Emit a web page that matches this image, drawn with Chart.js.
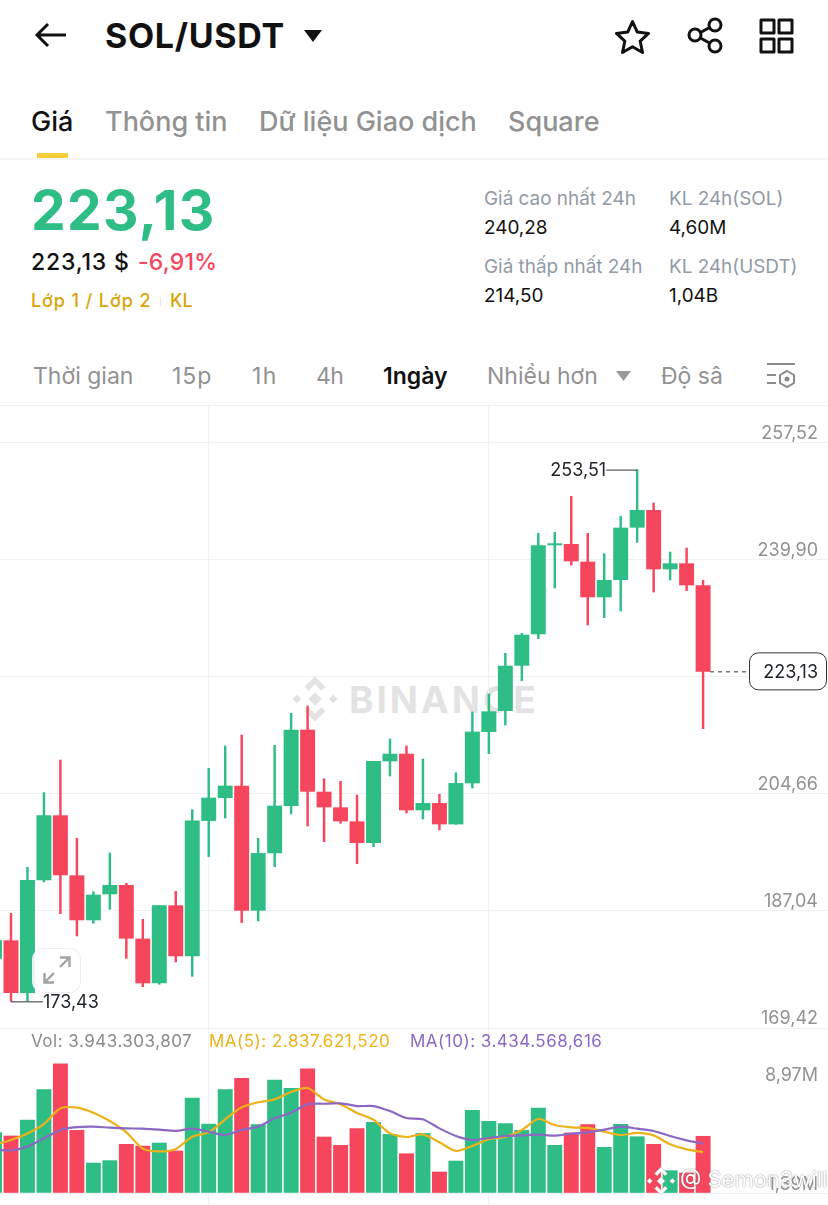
<!DOCTYPE html>
<html>
<head>
<meta charset="utf-8">
<title>SOL/USDT</title>
<script src="https://cdn.jsdelivr.net/npm/chart.js@4"></script>
<style>
  html, body { margin: 0; padding: 0; background: #fff; }
  body { width: 828px; height: 1205px; position: relative; overflow: hidden; font-family: Inter, sans-serif; }
  .t { position: absolute; white-space: nowrap; line-height: 1; transform: translateY(-50%); }
  .grey { color: #929AA5; }
  .tab { font-size: 27px; font-weight: 500; top: 120.5px; color: #929292; }
  .range { font-size: 23px; top: 376px; color: #929292; }
  .stat { font-size: 18.9px; }
  .legend { font-size: 17px; top: 1041px; letter-spacing: .5px; }
  canvas { position: absolute; left: 0; display: block; }
  svg { position: absolute; }
  .rule { position: absolute; left: 0; width: 828px; height: 2px; background: #F5F5F5; }
</style>
</head>
<body>

<!-- top bar -->
<svg style="left:34px;top:21px" width="34" height="28" viewBox="0 0 34 28" fill="none" stroke="#111" stroke-width="3"><path d="M32 14H3M14 3L3 14l11 11"/></svg>
<div class="t" style="left:105px;top:36px;font-size:34px;font-weight:700;color:#111;letter-spacing:.7px">SOL/USDT</div>
<svg style="left:304px;top:30px" width="18" height="12"><path d="M0 0h18L9 12z" fill="#111"/></svg>
<svg style="left:614px;top:19px" width="37" height="35" viewBox="0 0 37 35" fill="none" stroke="#111" stroke-width="3" stroke-linejoin="round"><path d="M18.5 2.5l4.8 10.6 11.2 1.3-8.3 7.8 2.3 11.3-10-5.7-10 5.7 2.3-11.3-8.3-7.8 11.2-1.3z"/></svg>
<svg style="left:686px;top:17px" width="38" height="37" viewBox="0 0 38 37" fill="none" stroke="#111" stroke-width="3"><circle cx="29" cy="8" r="6"/><circle cx="29" cy="29" r="6"/><circle cx="9" cy="18" r="6"/><path d="M14.5 15.5l9-5M14.5 21l9 5"/></svg>
<svg style="left:758px;top:18px" width="37" height="36" viewBox="0 0 37 36" fill="none" stroke="#111" stroke-width="3" stroke-linejoin="round"><rect x="3" y="2" width="13" height="13"/><rect x="21" y="2" width="13" height="13"/><rect x="3" y="21" width="13" height="13"/><rect x="21" y="21" width="13" height="13"/></svg>

<!-- tabs -->
<div class="t tab" style="left:31px;color:#111">Giá</div>
<div class="t tab" style="left:105px">Thông tin</div>
<div class="t tab" style="left:259px">Dữ liệu Giao dịch</div>
<div class="t tab" style="left:508px">Square</div>
<div style="position:absolute;left:37px;top:153px;width:31px;height:5px;background:#F8CF3A"></div>
<div class="rule" style="top:158px"></div>

<!-- price block -->
<div class="t" style="left:31px;top:210px;font-size:55px;font-weight:700;color:#2EBD85;letter-spacing:1.4px">223,13</div>
<div class="t" style="left:31px;top:262px;font-size:23px;font-weight:500;color:#111;letter-spacing:.8px">223,13 $</div>
<div class="t" style="left:138px;top:262px;font-size:23px;font-weight:500;color:#F6465D;letter-spacing:.2px">-6,91%</div>
<div class="t" style="left:31px;top:301px;font-size:18px;font-weight:500;color:#D9A406;letter-spacing:.9px">Lớp 1 / Lớp 2</div>
<div style="position:absolute;left:160px;top:297px;width:1px;height:9px;background:#E6E6E6"></div>
<div class="t" style="left:170px;top:301px;font-size:18px;font-weight:500;color:#D9A406">KL</div>

<div class="t stat grey" style="left:484px;top:199px">Giá cao nhất 24h</div>
<div class="t stat" style="left:484px;top:228px;color:#111">240,28</div>
<div class="t stat grey" style="left:484px;top:267px">Giá thấp nhất 24h</div>
<div class="t stat" style="left:484px;top:296px;color:#111">214,50</div>
<div class="t stat grey" style="left:669px;top:199px">KL 24h(SOL)</div>
<div class="t stat" style="left:669px;top:228px;color:#111">4,60M</div>
<div class="t stat grey" style="left:669px;top:267px">KL 24h(USDT)</div>
<div class="t stat" style="left:669px;top:296px;color:#111">1,04B</div>

<!-- interval row -->
<div class="t range" style="left:33px">Thời gian</div>
<div class="t range" style="left:172px;letter-spacing:1px">15p</div>
<div class="t range" style="left:252px;letter-spacing:1.5px">1h</div>
<div class="t range" style="left:316px;letter-spacing:-.5px">4h</div>
<div class="t range" style="left:383px;color:#111;font-weight:600">1ngày</div>
<div class="t range" style="left:487px">Nhiều hơn</div>
<svg style="left:616px;top:371px" width="15" height="10"><path d="M0 0h15L7.5 10z" fill="#9A9A9A"/></svg>
<div class="t range" style="left:661px">Độ sâ</div>
<svg style="left:765px;top:362px" width="31" height="28" viewBox="0 0 31 28" fill="none" stroke="#8A8A8A" stroke-width="2"><path d="M2 2h28M2 13h9M2 21h9"/><path d="M22 9l7 4v8l-7 4-7-4v-8z"/><circle cx="22" cy="17" r="1.5" fill="#8A8A8A"/></svg>
<div class="rule" style="top:405px;height:1px;background:#EEEEEE"></div>

<!-- watermark sits under the candles -->
<svg style="left:291px;top:675px" width="48" height="48" viewBox="0 0 32 32" fill="#E3E3E3"><path d="M16 1l6.9 6.9-2.6 2.6L16 6.2l-4.3 4.3-2.6-2.6zM16 31l-6.9-6.9 2.6-2.6 4.3 4.3 4.3-4.3 2.6 2.6zM1 16l2.9-2.9L6.8 16l-2.9 2.9zM25.2 16l2.9-2.9L31 16l-2.9 2.9zM16 11.6l4.4 4.4-4.4 4.4-4.4-4.4z"/></svg>
<div class="t" style="left:349px;top:699px;font-size:37px;font-weight:700;color:#E3E3E3;letter-spacing:3px">BINANCE</div>

<canvas id="priceChart" width="828" height="622" style="top:406px"></canvas>
<canvas id="volumeChart" width="828" height="177" style="top:1028px"></canvas>

<!-- expand button -->
<div style="position:absolute;left:32px;top:948px;width:47px;height:43px;border:1.5px solid #EDEDED;border-radius:11px;background:rgba(255,255,255,.88)"></div>
<svg style="left:42px;top:955px" width="30" height="30" viewBox="0 0 30 30" fill="none" stroke="#A3A3A3" stroke-width="2.4"><path d="M18 12l9-9M18 2.500h9.500V12M12 18l-9 9M2.500 18v9.500H12"/></svg>

<!-- volume legend -->
<div class="t legend" style="left:31px;color:#8A8A8A">Vol: 3.943.303,807</div>
<div class="t legend" style="left:209px;color:#EDB21A">MA(5): 2.837.621,520</div>
<div class="t legend" style="left:410px;color:#8B68C4">MA(10): 3.434.568,616</div>

<!-- footer watermark -->
<svg style="left:646px;top:1166px" width="30" height="30" viewBox="0 0 32 32" fill="#fff" stroke="#BDBDBD" stroke-width=".6"><path d="M16 1l6.9 6.9-2.6 2.6L16 6.200l-4.300 4.300-2.600-2.600zM16 31l-6.900-6.900 2.600-2.600 4.300 4.300 4.300-4.300 2.600 2.600zM1 16l2.900-2.900L6.800 16l-2.900 2.900zM25.200 16l2.900-2.900L31 16l-2.900 2.900zM16 11.600l4.400 4.400-4.400 4.400-4.400-4.400z"/></svg>
<div class="t" style="left:680px;top:1179px;font-size:22px;color:#fff;text-shadow:0 0 1.5px #666">@ Semon3will</div>

<script>
// candle index on the x axis, one per day
const dayIndex = [0,1,2,3,4,5,6,7,8,9,10,11,12,13,14,15,16,17,18,19,20,21,22,23,24,25,26,27,28,29,30,31,32,33,34,35,36,37,38,39,40,41,42,43];

const opens  = [179.91,182.57,174.74,191.71,201.40,192.36,185.69,189.60,190.91,182.83,176.20,187.85,180.27,200.65,204.11,205.87,187.14,195.78,202.91,214.30,204.96,202.60,200.49,197.33,209.63,210.68,202.25,203.25,200.14,206.31,214.05,217.21,224.03,228.75,242.16,242.26,239.60,234.33,236.94,244.82,247.38,238.54,239.35,236.03];
const highs  = [184.20,186.69,193.62,204.86,209.78,197.99,189.95,195.78,191.21,185.79,187.85,190.00,202.30,208.53,211.89,213.55,197.99,211.99,216.81,217.91,206.97,206.57,204.51,209.58,212.94,211.89,209.93,204.61,207.87,217.01,219.72,225.84,228.85,243.91,244.06,249.49,243.91,240.85,246.47,253.51,248.48,241.10,241.70,236.84];
const lows   = [178.60,173.43,173.49,191.41,186.64,183.28,185.19,187.29,179.91,175.65,176.00,179.36,177.20,195.23,201.05,185.29,185.54,193.72,201.65,199.84,197.48,200.24,194.17,196.73,207.37,201.80,200.89,199.24,200.09,205.56,210.73,215.05,221.73,228.05,235.68,239.15,230.11,231.21,232.22,242.56,235.08,236.89,235.28,214.50];
const closes = [182.57,174.74,191.66,201.40,192.47,185.69,189.45,190.91,182.93,176.20,187.85,180.27,200.60,204.06,205.87,187.14,195.73,202.86,214.30,205.06,202.70,200.59,197.33,209.58,210.68,202.25,203.25,200.14,206.26,214.00,217.06,223.93,228.60,242.06,242.36,239.75,234.33,236.84,244.72,247.38,238.54,239.35,236.13,223.13];

// volume in millions of SOL
const volumes = [4.19,3.96,5.07,7.18,8.97,4.35,2.08,2.25,3.38,3.26,3.47,2.92,6.60,4.79,7.18,7.96,4.75,7.85,7.27,8.63,3.89,3.31,4.47,4.91,4.07,2.73,4.14,1.46,2.22,5.74,4.98,4.82,4.35,5.90,3.31,4.17,4.75,3.17,4.77,3.91,3.38,1.55,1.39,3.94];
const ma5  = [3.33,3.68,4.14,4.79,5.88,5.93,5.58,5.00,4.21,3.08,2.89,3.06,3.91,4.21,5.12,5.95,6.30,6.50,7.02,7.29,6.50,6.16,5.56,5.09,4.14,3.89,4.07,3.52,2.92,3.27,3.73,3.89,4.38,5.14,4.72,4.56,4.52,4.26,4.03,4.17,4.00,3.38,3.03,2.84];
const ma10 = [2.99,2.96,3.22,3.80,4.38,4.58,4.61,4.54,4.49,4.47,4.40,4.31,4.47,4.26,4.03,4.38,4.61,5.19,5.58,6.16,6.20,6.23,6.04,6.04,5.69,5.21,5.12,4.49,3.96,3.68,3.82,3.96,4.00,4.05,3.98,4.12,4.21,4.40,4.61,4.47,4.31,3.96,3.66,3.43];

const priceTicks = [257.52,239.90,222.28,204.66,187.04,169.42];
const volumeTicks = [8.97,1.39];
const xGridDays = [13,30];

const GREEN = "#2EBD85";
const RED = "#F6465D";
const GRID = "#F0F1F2";
const AXIS_TEXT = "#929292";

const comma = (v) => v.toFixed(2).replace(".", ",");
const candleColors = closes.map((c, i) => (c >= opens[i] ? GREEN : RED));
const volumeColors = candleColors;

// the y axes overlay the plot, so they must not take room from it
const flatten = (s) => { s.width = 0; s.paddingTop = 0; s.paddingBottom = 0; s.paddingLeft = 0; s.paddingRight = 0; };

// shared x axis: the visible window starts a little after the first candle
const xAxis = () => ({
  type: "linear",
  offset: false,
  min: 0.334,
  max: 50.58,
  afterFit: (s) => { s.height = 0; s.paddingLeft = 0; s.paddingRight = 0; },
  afterBuildTicks: (s) => { s.ticks = xGridDays.map((value) => ({ value })); },
  ticks: { display: false },
  border: { display: false },
  grid: { color: GRID, drawTicks: false, offset: false },
});

// high, low and last price markers on the price panel
const priceMarkers = {
  id: "priceMarkers",
  afterDatasetsDraw(chart) {
    const { ctx, scales: { x, y } } = chart;
    const font = "18px Inter";
    const hiVal = Math.max(...highs), loVal = Math.min(...lows);
    const hiX = x.getPixelForValue(highs.indexOf(hiVal)), hiY = y.getPixelForValue(hiVal);
    const loX = x.getPixelForValue(lows.indexOf(loVal)), loY = y.getPixelForValue(loVal);
    const last = closes[closes.length - 1];
    const lastX = x.getPixelForValue(dayIndex[dayIndex.length - 1]), lastY = y.getPixelForValue(last);

    ctx.save();
    ctx.font = font;
    ctx.fillStyle = "#1E2329";
    ctx.strokeStyle = "#333";
    ctx.lineWidth = 1;
    ctx.textBaseline = "middle";

    ctx.beginPath();
    ctx.moveTo(hiX, hiY + 0.5); ctx.lineTo(hiX - 31, hiY + 0.5);
    ctx.moveTo(loX, loY + 0.5); ctx.lineTo(loX + 32, loY + 0.5);
    ctx.stroke();
    ctx.textAlign = "right";
    ctx.fillText(comma(hiVal), hiX - 31, hiY + 1);
    ctx.textAlign = "left";
    ctx.fillText(comma(loVal), loX + 32, loY + 1);

    ctx.setLineDash([4, 4]);
    ctx.beginPath();
    ctx.moveTo(lastX + 7, lastY + 0.5); ctx.lineTo(749, lastY + 0.5);
    ctx.stroke();
    ctx.setLineDash([]);

    ctx.beginPath();
    ctx.roundRect(749.5, lastY - 18.5, 77, 37, 9);
    ctx.fillStyle = "#fff";
    ctx.fill();
    ctx.stroke();
    ctx.fillStyle = "#1E2329";
    ctx.textAlign = "right";
    ctx.fillText(comma(last), 818, lastY + 1);
    ctx.restore();
  },
};

new Chart(document.getElementById("priceChart"), {
  type: "bar",
  data: {
    labels: dayIndex,
    datasets: [
      { data: lows.map((l, i) => [l, highs[i]]), backgroundColor: candleColors, barThickness: 1.8, grouped: false, order: 2 },
      { data: opens.map((o, i) => [o, closes[i]]), backgroundColor: candleColors, barThickness: 14.3, grouped: false, order: 1 },
    ],
  },
  options: {
    responsive: false,
    animation: false,
    layout: { padding: 0 },
    plugins: { legend: { display: false }, tooltip: { enabled: false } },
    scales: {
      x: xAxis(),
      y: {
        position: "right",
        min: 169.42,
        max: 263.09,
        afterFit: flatten,
        afterBuildTicks: (s) => { s.ticks = priceTicks.map((value) => ({ value })); },
        ticks: { mirror: true, padding: -10, labelOffset: -9, color: AXIS_TEXT, font: { family: "Inter", size: 18 }, callback: (v) => comma(v) },
        border: { display: false },
        grid: { color: GRID, drawTicks: false },
      },
    },
  },
  plugins: [priceMarkers],
});

new Chart(document.getElementById("volumeChart"), {
  type: "bar",
  data: {
    labels: dayIndex,
    datasets: [
      { type: "line", data: ma5, borderColor: "#EDB21A", borderWidth: 2.2, pointRadius: 0, tension: 0.25, order: 1 },
      { type: "line", data: ma10, borderColor: "#8B68C4", borderWidth: 2.2, pointRadius: 0, tension: 0.25, order: 0 },
      { data: volumes, backgroundColor: volumeColors, barThickness: 14.3, order: 2 },
    ],
  },
  options: {
    responsive: false,
    animation: false,
    layout: { padding: 0 },
    plugins: { legend: { display: false }, tooltip: { enabled: false } },
    scales: {
      x: xAxis(),
      y: {
        position: "right",
        min: -0.833,
        max: 11.46,
        afterFit: flatten,
        afterBuildTicks: (s) => { s.ticks = [11.46, ...volumeTicks, 0].map((value) => ({ value })); },
        ticks: {
          mirror: true, padding: -10, labelOffset: 12, color: AXIS_TEXT, font: { family: "Inter", size: 18 },
          callback: (v) => (volumeTicks.includes(v) ? comma(v) + "M" : ""),
        },
        border: { display: false },
        grid: { drawTicks: false, color: (c) => (volumeTicks.includes(c.tick.value) ? "transparent" : GRID) },
      },
    },
  },
});
</script>
</body>
</html>
